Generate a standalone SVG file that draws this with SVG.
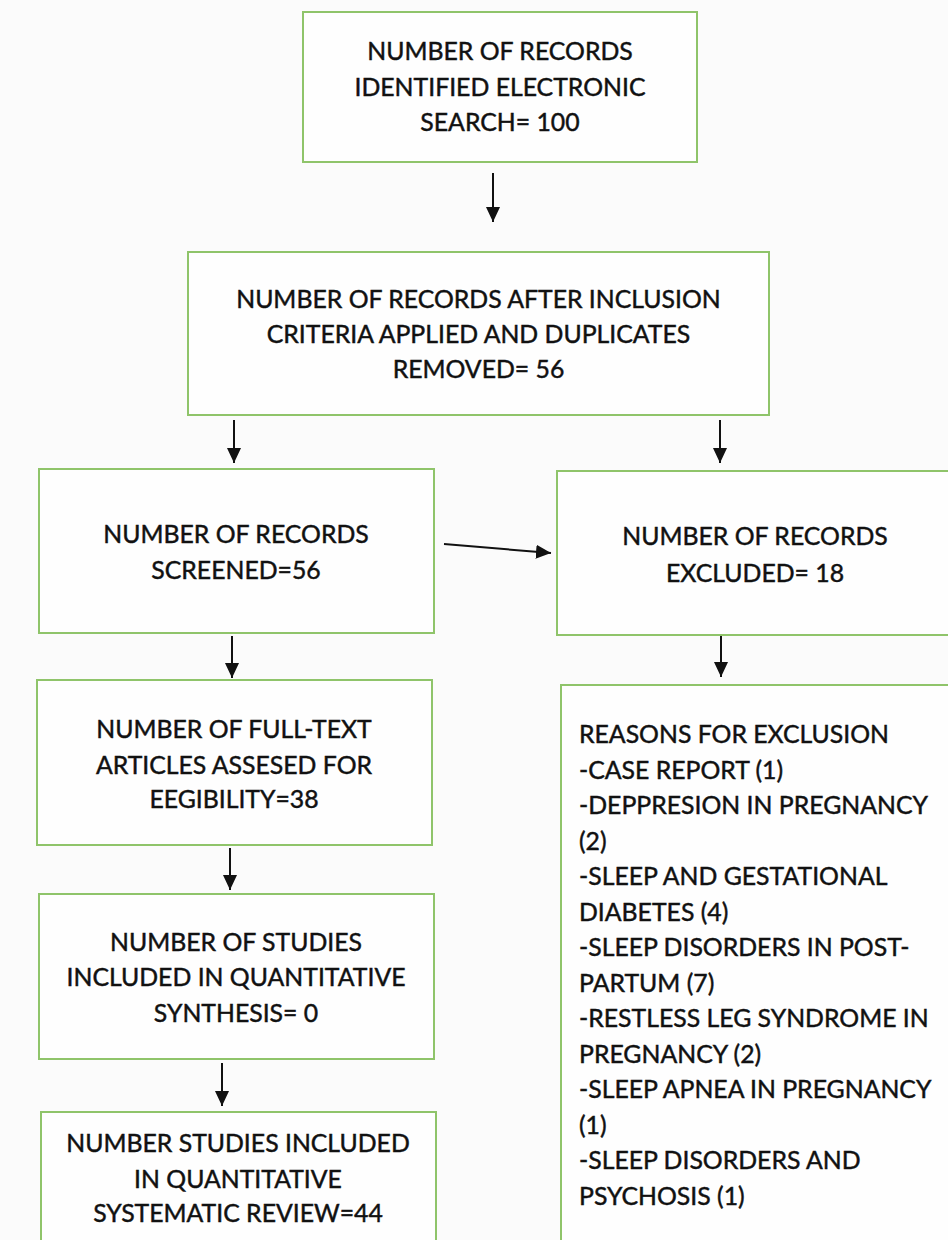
<svg xmlns="http://www.w3.org/2000/svg" width="948" height="1240" viewBox="0 0 948 1240">
<defs>
<marker id="ah" markerUnits="userSpaceOnUse" markerWidth="16" markerHeight="16" viewBox="0 0 16 16" refX="15" refY="8" orient="auto">
<path d="M0,1 L15,8 L0,15 Z" fill="#111"/>
</marker>
<style>
.box{fill:#fefefe;stroke:#8fc46a;stroke-width:2}
.t{font-family:Lato,"Liberation Sans",sans-serif;font-size:24.8px;fill:#111;stroke:#111;stroke-width:0.45px}
.c{text-anchor:middle}
.conn line{stroke:#111;stroke-width:2;marker-end:url(#ah)}
</style>
</defs>
<rect x="0" y="0" width="948" height="1240" fill="#fbfbfb"/>
<g id="identified">
<rect class="box" x="303" y="12" width="394" height="150"/>
<text class="t c" x="500" y="60">NUMBER OF RECORDS</text>
<text class="t c" x="500" y="96">IDENTIFIED ELECTRONIC</text>
<text class="t c" x="500" y="131">SEARCH= 100</text>
</g>
<g id="after-inclusion">
<rect class="box" x="188" y="252" width="581" height="163"/>
<text class="t c" x="478.5" y="308">NUMBER OF RECORDS AFTER INCLUSION</text>
<text class="t c" x="478.5" y="343">CRITERIA APPLIED AND DUPLICATES</text>
<text class="t c" x="478.5" y="378">REMOVED= 56</text>
</g>
<g id="screened">
<rect class="box" x="39" y="469" width="395" height="164"/>
<text class="t c" x="236" y="543">NUMBER OF RECORDS</text>
<text class="t c" x="236" y="579">SCREENED=56</text>
</g>
<g id="excluded">
<rect class="box" x="557" y="471" width="396" height="164"/>
<text class="t c" x="755" y="545">NUMBER OF RECORDS</text>
<text class="t c" x="755" y="582">EXCLUDED= 18</text>
</g>
<g id="full-text">
<rect class="box" x="37" y="680" width="395" height="165"/>
<text class="t c" x="234" y="738">NUMBER OF FULL-TEXT</text>
<text class="t c" x="234" y="774">ARTICLES ASSESED FOR</text>
<text class="t c" x="234" y="808">EEGIBILITY=38</text>
</g>
<g id="quantitative">
<rect class="box" x="39" y="894" width="395" height="165"/>
<text class="t c" x="236" y="951">NUMBER OF STUDIES</text>
<text class="t c" x="236" y="986">INCLUDED IN QUANTITATIVE</text>
<text class="t c" x="236" y="1022">SYNTHESIS= 0</text>
</g>
<g id="systematic">
<rect class="box" x="41" y="1112" width="395" height="140"/>
<text class="t c" x="238" y="1152">NUMBER STUDIES INCLUDED</text>
<text class="t c" x="238" y="1188">IN QUANTITATIVE</text>
<text class="t c" x="238" y="1222">SYSTEMATIC REVIEW=44</text>
</g>
<g id="reasons">
<rect class="box" x="561" y="685" width="395" height="570"/>
<text class="t" x="579" y="743">REASONS FOR EXCLUSION</text>
<text class="t" x="579" y="778.5">-CASE REPORT (1)</text>
<text class="t" x="579" y="814">-DEPPRESION IN PREGNANCY</text>
<text class="t" x="579" y="849.5">(2)</text>
<text class="t" x="579" y="885">-SLEEP AND GESTATIONAL</text>
<text class="t" x="579" y="920.5">DIABETES (4)</text>
<text class="t" x="579" y="956">-SLEEP DISORDERS IN POST-</text>
<text class="t" x="579" y="991.5">PARTUM (7)</text>
<text class="t" x="579" y="1027">-RESTLESS LEG SYNDROME IN</text>
<text class="t" x="579" y="1062.5">PREGNANCY (2)</text>
<text class="t" x="579" y="1098">-SLEEP APNEA IN PREGNANCY</text>
<text class="t" x="579" y="1133.5">(1)</text>
<text class="t" x="579" y="1169">-SLEEP DISORDERS AND</text>
<text class="t" x="579" y="1204.5">PSYCHOSIS (1)</text>
</g>
<g id="connectors" class="conn">
<line x1="493" y1="173" x2="493" y2="222"/>
<line x1="234" y1="420" x2="234" y2="463"/>
<line x1="720" y1="420" x2="720" y2="463"/>
<line x1="444" y1="544" x2="551" y2="553"/>
<line x1="232" y1="636" x2="232" y2="678"/>
<line x1="721" y1="636" x2="721" y2="677"/>
<line x1="230" y1="848" x2="230" y2="890"/>
<line x1="222" y1="1063" x2="222" y2="1106"/>
</g>
</svg>
